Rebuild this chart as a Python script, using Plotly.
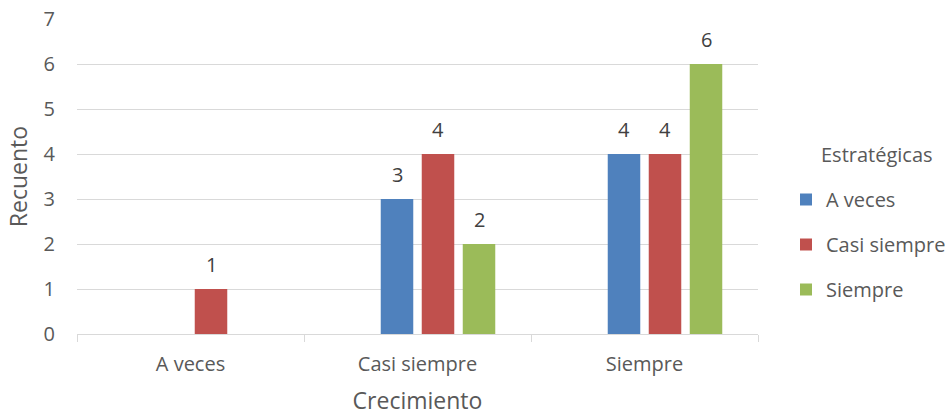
import plotly.graph_objects as go

# Categories on the x axis (Crecimiento) and series (Estratégicas)
categorias = ["A veces", "Casi siempre", "Siempre"]
series = ["A veces", "Casi siempre", "Siempre"]
a_veces = [None, 3, 4]
casi_siempre = [1, 4, 4]
siempre = [None, 2, 6]
valores = [a_veces, casi_siempre, siempre]
colores = ["#4F81BD", "#C0504D", "#9BBB59"]
y_ticks = [0, 1, 2, 3, 4, 5, 6, 7]

FONT = "Open Sans"
GRIS = "#595959"
BARGAP = 0.2775
GROUPGAP = 0.207
N_SLOTS = 4  # an empty leading series keeps its slot in each group

W, H = 945, 419
M_L, M_R, M_T, M_B = 77, 187, 19, 85
plot_w = W - M_L - M_R
plot_h = H - M_T - M_B

fig = go.Figure()

# empty leading series (occupies the first slot of every group)
fig.add_trace(go.Bar(x=categorias, y=[None] * len(categorias), name="",
                     showlegend=False, hoverinfo="skip"))

for k, (nombre, vals, col) in enumerate(zip(series, valores, colores)):
    fig.add_trace(go.Bar(x=categorias, y=vals, name=nombre,
                         marker=dict(color=col, line=dict(width=0)),
                         legendgroup=nombre))

# value labels above each bar
slot = (1 - BARGAP) / N_SLOTS
annotations = []
for k, vals in enumerate(valores):
    pos = k + 1
    dx = -(1 - BARGAP) / 2 + (pos + 0.5) * slot
    for i, v in enumerate(vals):
        if v is None:
            continue
        annotations.append(dict(x=i + dx, y=v, xref="x", yref="y", text=str(v),
                                showarrow=False, yanchor="middle", yshift=25,
                                font=dict(family=FONT, size=20, color="#404040")))

# legend title
annotations.append(dict(x=(819 - M_L) / plot_w, y=(H - M_B - 154) / plot_h,
                        xref="paper", yref="paper",
                        text="Estratégicas", showarrow=False, xanchor="left",
                        yanchor="middle",
                        font=dict(family=FONT, size=20, color=GRIS)))

fig.update_layout(
    width=W, height=H,
    margin=dict(l=M_L, r=M_R, t=M_T, b=M_B, autoexpand=False),
    paper_bgcolor="white", plot_bgcolor="white",
    barmode="group", bargap=BARGAP, bargroupgap=GROUPGAP,
    font=dict(family=FONT, size=20, color=GRIS),
    showlegend=True,
    legend=dict(xref="container", yref="container", x=786 / W, y=1 - 180 / H,
                xanchor="left", yanchor="top", tracegroupgap=16,
                font=dict(family=FONT, size=20, color=GRIS),
                bgcolor="rgba(0,0,0,0)", itemclick=False),
    annotations=annotations,
)

fig.update_xaxes(
    type="category", tickson="boundaries", ticks="outside", ticklen=7,
    tickcolor="#D9D9D9", showline=True, linecolor="#D9D9D9", linewidth=1,
    showgrid=False, tickfont=dict(family=FONT, size=20, color=GRIS),
    ticklabelstandoff=12,
    title=dict(text="Crecimiento", font=dict(family=FONT, size=23, color=GRIS),
               standoff=16),
)
fig.update_yaxes(
    range=[0, 7], tickvals=y_ticks, showgrid=True, gridcolor="#D9D9D9",
    gridwidth=1, zeroline=False, showline=False, ticks="",
    ticklabelstandoff=21,
    tickfont=dict(family=FONT, size=20, color=GRIS),
    title=dict(text="Recuento", font=dict(family=FONT, size=23, color=GRIS),
               standoff=9),
)

fig.write_html("out.html")
